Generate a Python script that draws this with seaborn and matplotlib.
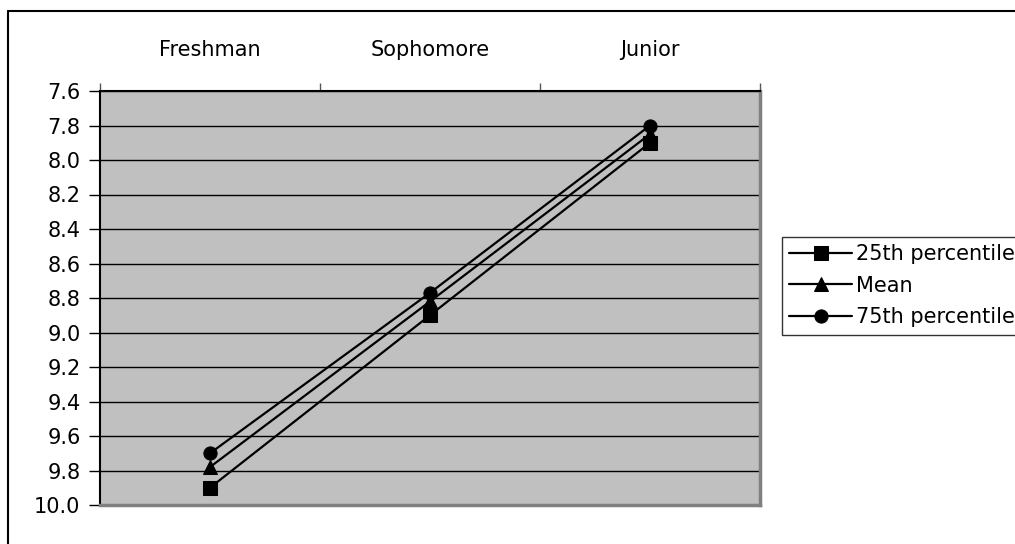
import numpy as np
import pandas as pd
import seaborn as sns
import matplotlib.pyplot as plt
from matplotlib.lines import Line2D

# class years and series values (seconds, axis reversed)
classes = ["Freshman", "Sophomore", "Junior"]
p25 = [9.90, 8.90, 7.90]
mean = [9.78, 8.82, 7.85]
p75 = [9.70, 8.77, 7.80]
series_names = ["25th percentile", "Mean", "75th percentile"]
y_ticks = [7.6, 7.8, 8.0, 8.2, 8.4, 8.6, 8.8, 9.0, 9.2, 9.4, 9.6, 9.8, 10.0]

sns.set_style("white")
plt.rcParams["font.family"] = ["DejaVu Sans"]
plt.rcParams["text.color"] = "black"
plt.rcParams["xtick.color"] = "black"
plt.rcParams["ytick.color"] = "black"

df = pd.DataFrame({
    "pos": list(range(len(classes))) * 3,
    "value": p25 + mean + p75,
    "series": np.repeat(series_names, len(classes)),
})

fig = plt.figure(figsize=(10.15, 5.44), dpi=100)
ax = fig.add_axes([100 / 1015, 1 - 505 / 544, 660 / 1015, 414 / 544])
ax.set_facecolor("#C0C0C0")

markers = {"25th percentile": "s", "Mean": "^", "75th percentile": "o"}
for name in series_names:
    sub = df[df["series"] == name]
    sns.lineplot(data=sub, x="pos", y="value", ax=ax, color="black",
                 marker=markers[name], markersize=9.5, linewidth=1.6,
                 markeredgecolor="black", label=name)

ax.set_xlim(-0.5, len(classes) - 0.5)
ax.set_ylim(10.0, 7.6)
ax.set_yticks(y_ticks)
ax.set_yticklabels([f"{v:.1f}" for v in y_ticks], fontsize=15)
ax.yaxis.grid(True, color="black", linewidth=1)
ax.xaxis.grid(False)
ax.set_xlabel("")
ax.set_ylabel("")

# category labels on top, boundary ticks on top
ax.xaxis.tick_top()
ax.set_xticks(range(len(classes)))
ax.set_xticklabels(classes, fontsize=15)
ax.set_xticks(np.arange(-0.5, len(classes)), minor=True)
ax.tick_params(axis="x", which="major", length=0, pad=22)
ax.tick_params(axis="x", which="minor", top=True, bottom=False, length=6,
               width=1, color="#555555", direction="out")
ax.tick_params(axis="y", length=8, width=1, color="black", direction="out",
               left=True, pad=6)

for side in ["left", "top"]:
    ax.spines[side].set_color("black")
    ax.spines[side].set_linewidth(1.5)
for side in ["right", "bottom"]:
    ax.spines[side].set_color("#808080")
    ax.spines[side].set_linewidth(2.5)

handles, labels = ax.get_legend_handles_labels()
ax.get_legend().remove()
leg = fig.legend(handles, labels, loc="upper left",
                 bbox_to_anchor=(782 / 1015, 1 - 237 / 544),
                 fontsize=15, frameon=True, fancybox=False, shadow=False,
                 edgecolor="black", handlelength=3.0, handletextpad=0.2,
                 labelspacing=0.55, borderpad=0.35, borderaxespad=0)
leg.get_frame().set_linewidth(1)

# outer chart border (cropped on right and bottom)
fig.add_artist(Line2D([8 / 1015, 8 / 1015], [0, 1 - 11 / 544],
                      transform=fig.transFigure, color="black", linewidth=1.5))
fig.add_artist(Line2D([8 / 1015, 1], [1 - 11 / 544, 1 - 11 / 544],
                      transform=fig.transFigure, color="black", linewidth=1.5))

fig.savefig("out.png", dpi=100, facecolor="white")
